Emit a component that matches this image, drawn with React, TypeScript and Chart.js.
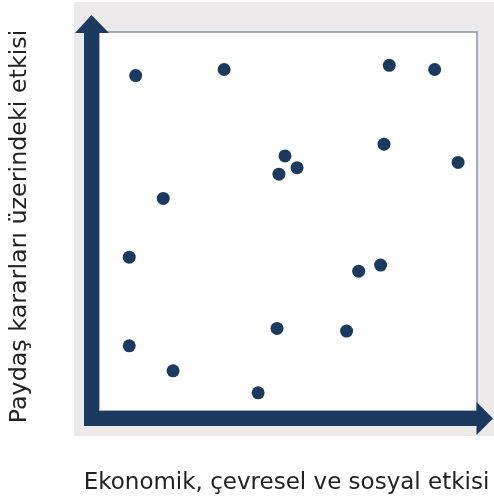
import React, { useEffect, useRef } from "react";
import { Chart, registerables } from "chart.js";

Chart.register(...registerables);

const xValues = [9.7, 33.1, 76.8, 88.8, 75.4, 95.0, 49.2, 47.6, 52.4, 17.0, 8.0, 68.7, 74.5, 8.0, 47.1, 65.5, 19.6, 42.1];
const yValues = [88.5, 90.1, 91.2, 90.1, 70.4, 65.6, 67.3, 62.5, 64.2, 56.1, 40.6, 36.9, 38.5, 17.2, 21.8, 21.1, 10.6, 4.8];
const xTitle = "Ekonomik, çevresel ve sosyal etkisi";
const yTitle = "Paydaş kararları üzerindeki etkisi";

const NAVY = "#1b3a5f";

const decor = {
  id: "decor",
  beforeDatasetsDraw(chart: any) {
    const { ctx, chartArea: ca, width } = chart;
    const L = ca.left, R = ca.right, T = ca.top, B = ca.bottom;
    ctx.save();
    // gray panel
    ctx.fillStyle = "#ebe9e9";
    ctx.fillRect(L - 25, T - 30, width - (L - 25), B + 25 - (T - 30));
    // white box
    ctx.fillStyle = "#ffffff";
    ctx.fillRect(L, T, R - L, B - T);
    ctx.strokeStyle = "#8595ab";
    ctx.lineWidth = 1.5;
    ctx.strokeRect(L, T, R - L, B - T);
    // arrows
    ctx.fillStyle = NAVY;
    ctx.fillRect(L - 15, T, 15, B + 15 - T);
    ctx.beginPath();
    ctx.moveTo(L - 24, T + 1);
    ctx.lineTo(L + 10, T + 1);
    ctx.lineTo(L - 7.5, T - 17);
    ctx.closePath();
    ctx.fill();
    ctx.fillRect(L - 15, B, R - (L - 15), 15);
    ctx.beginPath();
    ctx.moveTo(R - 0.5, B - 9);
    ctx.lineTo(R - 0.5, B + 24);
    ctx.lineTo(R + 16, B + 7.5);
    ctx.closePath();
    ctx.fill();
    ctx.restore();
  },
  afterDraw(chart: any) {
    const { ctx, chartArea: ca } = chart;
    ctx.save();
    ctx.fillStyle = "#222222";
    ctx.textAlign = "center";
    ctx.textBaseline = "middle";
    ctx.font = "23px 'DejaVu Sans'";
    ctx.fillText(xTitle, (ca.left + ca.right) / 2 - 1.5, ca.bottom + 72);
    ctx.translate(ca.left - 79, (ca.top + ca.bottom) / 2 + 5);
    ctx.rotate(-Math.PI / 2);
    ctx.font = "23.8px 'DejaVu Sans'";
    ctx.fillText(yTitle, 0, 0);
    ctx.restore();
  },
};

export default function App() {
  const ref = useRef<HTMLCanvasElement | null>(null);
  useEffect(() => {
    if (!ref.current) return;
    const data = xValues.map((x, i) => ({ x, y: yValues[i] }));
    const chart = new Chart(ref.current, {
      type: "scatter",
      data: {
        datasets: [
          {
            data,
            backgroundColor: NAVY,
            borderWidth: 0,
            pointRadius: 6.5,
            pointHoverRadius: 6.5,
          },
        ],
      },
      options: {
        animation: false,
        responsive: true,
        maintainAspectRatio: false,
        layout: { padding: { left: 99, right: 17, top: 32, bottom: 89 } },
        plugins: { legend: { display: false }, tooltip: { enabled: false } },
        scales: {
          x: { type: "linear", min: 0, max: 100, display: false },
          y: { type: "linear", min: 0, max: 100, display: false },
        },
      },
      plugins: [decor],
    });
    return () => chart.destroy();
  }, []);
  return (
    <div style={{ position: "absolute", left: 0, top: 0, width: 494, height: 500 }}>
      <canvas ref={ref} />
    </div>
  );
}
